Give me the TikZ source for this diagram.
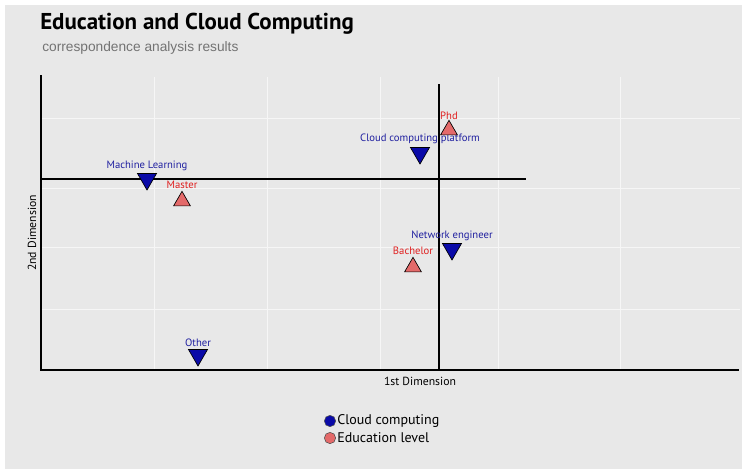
\documentclass[tikz,border=0pt]{standalone}
\usepackage{fontspec}
\setmainfont{PT Sans}
\newfontfamily\subfont{Liberation Sans}
\usetikzlibrary{shapes.geometric}
\definecolor{panel}{HTML}{E8E8E8}
\definecolor{gridline}{HTML}{F6F6F6}
\definecolor{cloudblue}{HTML}{0A0AA8}
\definecolor{edured}{HTML}{E46A6A}
\definecolor{labblue}{HTML}{2020A0}
\definecolor{labred}{HTML}{E02020}
\tikzset{
  px/.style={x=0.75pt,y=-0.75pt},
  grid/.style={draw=gridline,line width=0.75pt},
  axis/.style={draw=black,line width=1.5pt},
  cloud/.style={regular polygon,regular polygon sides=3,shape border rotate=180,
    minimum size=16.5pt,inner sep=0pt,fill=cloudblue,draw=black,line width=0.5pt},
  edu/.style={regular polygon,regular polygon sides=3,
    minimum size=14.5pt,inner sep=0pt,fill=edured,draw=black,line width=0.5pt},
  cloudlab/.style={text=labblue,font=\fontsize{8}{9}\selectfont,inner sep=0pt},
  edulab/.style={text=labred,font=\fontsize{8}{9}\selectfont,inner sep=0pt},
  axlab/.style={font=\fontsize{8.8}{10}\selectfont,inner sep=0pt},
  legdot/.style={circle,minimum size=8.5pt,inner sep=0pt,draw=black!70,line width=0.4pt},
  legtext/.style={font=\fontsize{10.5}{12}\selectfont,inner sep=0pt,anchor=west},
}
\begin{document}
\begin{tikzpicture}[px]
\useasboundingbox (0,0) rectangle (742,471);
\fill[white] (0,0) rectangle (742,471);
\fill[panel] (5,5) rectangle (742,469);

% grid
\foreach \gx in {154,267,380,498,620}
  \draw[grid] (\gx,77) -- (\gx,369);
\foreach \gy in {118,188,247,309}
  \draw[grid] (41,\gy) -- (740,\gy);

% title
\node[anchor=base west,inner sep=0pt,font=\bfseries\fontsize{17.2}{20}\selectfont] (title) at (40,29) {Education and Cloud Computing};
\node[anchor=base west,inner sep=0pt,text=black!55,font=\subfont\fontsize{10.3}{12}\selectfont] (subtitle) at (42,51) {correspondence analysis results};

% axes
\coordinate (o) at (41,370);
\coordinate (ytop) at (41,75);
\coordinate (xend) at (739,370);
\draw[axis] (ytop) -- (o) -- (xend);

% crosshair through the origin of the dimensions
\coordinate (vtop) at (439,84);
\coordinate (vbot) at (439,370);
\coordinate (hl) at (41,179);
\coordinate (hr) at (526,179);
\draw[axis] (vtop) -- (vbot);
\draw[axis] (hl) -- (hr);

% axis labels
\node[axlab] (xlab) at (420,381) {1st Dimension};
\node[axlab,rotate=90] (ylab) at (32,233) {2nd Dimension};

% cloud computing points
\node[cloud] (ml) at (147,179) {};
\node[cloudlab] (mllab) at (147,166) {Machine Learning};
\node[cloud] (ccp) at (420,153) {};
\node[cloudlab] (ccplab) at (420,139) {Cloud computing platform};
\node[cloud] (ne) at (452,249) {};
\node[cloudlab] (nelab) at (452,236) {Network engineer};
\node[cloud] (oth) at (198,355) {};
\node[cloudlab] (othlab) at (198,343) {Other};

% education points
\node[edu] (phd) at (449,130) {};
\node[edulab] (phdlab) at (449,116) {Phd};
\node[edu] (mas) at (182,201) {};
\node[edulab] (maslab) at (182,185) {Master};
\node[edu] (bac) at (413,267) {};
\node[edulab] (baclab) at (413,251) {Bachelor};

% legend
\node[legdot,fill=cloudblue] (lc) at (330,421) {};
\node[legtext] (lct) at (337,421) {Cloud computing};
\node[legdot,fill=edured] (le) at (330,438) {};
\node[legtext] (let) at (337,438) {Education level};
\end{tikzpicture}
\end{document}
